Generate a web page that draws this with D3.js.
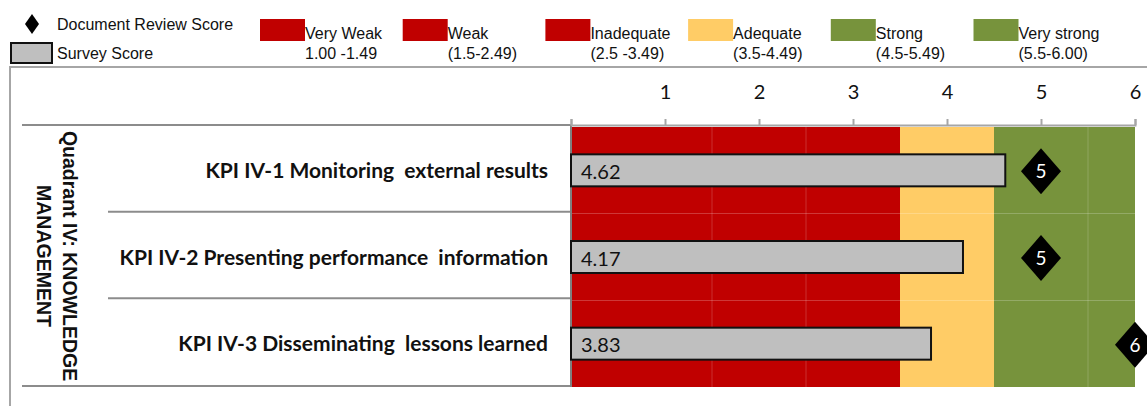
<!DOCTYPE html>
<html>
<head>
<meta charset="utf-8">
<script src="https://cdn.jsdelivr.net/npm/d3@7"></script>
<style>
  body { margin: 0; background: #fff; }
  svg { display: block; }
</style>
</head>
<body>
<svg></svg>
<script>
// ---- DATA ----
const kpis = [
  "KPI IV-1 Monitoring  external results",
  "KPI IV-2 Presenting performance  information",
  "KPI IV-3 Disseminating  lessons learned"
];
const surveyScores = [4.62, 4.17, 3.83];
const reviewScores = [5, 5, 6];
const quadrantLines = ["Quadrant IV: KNOWLEDGE", "MANAGEMENT"];

const bandNames = ["Very Weak", "Weak", "Inadequate", "Adequate", "Strong", "Very strong"];
const bandRanges = ["1.00 -1.49", "(1.5-2.49)", "(2.5 -3.49)", "(3.5-4.49)", "(4.5-5.49)", "(5.5-6.00)"];
const bandStarts = [0, 1.5, 2.5, 3.5, 4.5, 5.5];
const bandEnds = [1.5, 2.5, 3.5, 4.5, 5.5, 6];
const bandColors = ["#C00000", "#C00000", "#C00000", "#FFCC66", "#77933C", "#77933C"];
const tickValues = [0, 1, 2, 3, 4, 5, 6];

const W = 1147, H = 406;
const svg = d3.select("svg").attr("width", W).attr("height", H);

const calibri = "Lato, 'Open Sans', sans-serif";
const arial = "'Liberation Sans', Arial, sans-serif";

// ---- SCALES ----
const x = d3.scaleLinear().domain([0, 6]).range([571, 1135]);
const y = d3.scaleBand().domain(kpis).range([127, 387]).paddingInner(0);
const barH = 32;
const mid = k => y(k) + y.bandwidth() / 2;

// ---- FRAME ----
svg.append("path")
  .attr("d", `M10,${H} V67 H${W}`)
  .attr("fill", "none").attr("stroke", "#a6a6a6").attr("stroke-width", 2);

// ---- LEGEND ----
const leg = svg.append("g");
leg.append("path")
  .attr("d", "M0,-10L7,0L0,10L-7,0Z")
  .attr("transform", "translate(32,24)")
  .attr("fill", "#000");
leg.append("text").attr("x", 57).attr("y", 30).text("Document Review Score")
  .attr("font-family", arial).attr("font-size", 16).attr("fill", "#111");
leg.append("rect").attr("x", 11).attr("y", 43).attr("width", 41).attr("height", 20)
  .attr("fill", "#bfbfbf").attr("stroke", "#111").attr("stroke-width", 2);
leg.append("text").attr("x", 57).attr("y", 59).text("Survey Score")
  .attr("font-family", arial).attr("font-size", 16).attr("fill", "#111");

const legItem = leg.selectAll("g.item").data(bandNames).join("g")
  .attr("class", "item")
  .attr("transform", (d, i) => `translate(${260 + i * 142.7},0)`);
legItem.append("rect").attr("x", 0).attr("y", 19).attr("width", 45).attr("height", 22)
  .attr("fill", (d, i) => bandColors[i]);
legItem.append("text").attr("x", 45).attr("y", 39).text(d => d)
  .attr("font-family", arial).attr("font-size", 16).attr("fill", "#111");
legItem.append("text").attr("x", 45).attr("y", 59)
  .text((d, i) => bandRanges[i])
  .attr("font-family", arial).attr("font-size", 16).attr("fill", "#111");

// ---- BANDS ----
const bands = svg.append("g");
kpis.forEach(k => {
  bands.selectAll(null).data(bandStarts).join("rect")
    .attr("x", (d) => x(d))
    .attr("y", y(k))
    .attr("width", (d, i) => x(bandEnds[i]) - x(d))
    .attr("height", y.bandwidth())
    .attr("fill", (d, i) => bandColors[i]);
});
// faint dividers between bands of the same colour
bands.selectAll("line.div").data([1.5, 2.5, 5.5]).join("line")
  .attr("x1", d => x(d)).attr("x2", d => x(d))
  .attr("y1", y.range()[0]).attr("y2", y.range()[1])
  .attr("stroke", "#ffffff").attr("stroke-opacity", 0.18).attr("stroke-width", 1);

// ---- TABLE LINES ----
const grid = svg.append("g").attr("stroke", "#8c8c8c").attr("stroke-width", 2);
grid.append("line").attr("x1", 22).attr("x2", x(0)).attr("y1", 125).attr("y2", 125);
grid.append("line").attr("x1", 22).attr("x2", x(0)).attr("y1", 386).attr("y2", 386);
grid.selectAll("line.sep").data(kpis.slice(1)).join("line")
  .attr("x1", 108).attr("x2", x(0))
  .attr("y1", d => y(d) - 2).attr("y2", d => y(d) - 2);
grid.append("line").attr("x1", x(0)).attr("x2", x(0)).attr("y1", 125).attr("y2", 387)
  .attr("stroke", "#7f7f7f");

// ---- AXIS ----
const axis = d3.axisTop(x).tickValues(tickValues).tickSize(6).tickPadding(20)
  .tickFormat(d => d === 0 ? "" : d);
const axG = svg.append("g").attr("transform", "translate(0,125)").call(axis);
axG.select(".domain").attr("stroke", "#a6a6a6").attr("stroke-width", 2);
axG.selectAll(".tick line").attr("stroke", "#a6a6a6").attr("stroke-width", 2);
axG.selectAll(".tick text").attr("font-family", calibri).attr("font-size", 20).attr("fill", "#111");

// ---- CATEGORY LABELS ----
svg.append("g").selectAll("text").data(kpis).join("text")
  .attr("x", 548).attr("y", d => mid(d) + 7.5)
  .attr("text-anchor", "end")
  .attr("font-family", calibri).attr("font-weight", "bold").attr("font-size", 21)
  .attr("fill", "#111")
  .style("white-space", "pre")
  .text(d => d);

// quadrant label (rotated)
const q = svg.append("text")
  .attr("transform", `translate(63,256) rotate(90)`)
  .attr("text-anchor", "middle")
  .attr("font-family", arial).attr("font-weight", "bold").attr("font-size", 19.5)
  .attr("fill", "#111");
q.selectAll("tspan").data(quadrantLines).join("tspan")
  .attr("x", 0).attr("dy", (d, i) => i === 0 ? 0 : 26)
  .text(d => d);

// ---- SURVEY BARS ----
const bars = svg.append("g");
bars.selectAll("rect").data(surveyScores).join("rect")
  .attr("x", x(0))
  .attr("y", (d, i) => mid(kpis[i]) - barH / 2)
  .attr("width", d => x(d) - x(0))
  .attr("height", barH)
  .attr("fill", "#bfbfbf").attr("stroke", "#111").attr("stroke-width", 2);
bars.selectAll("text").data(surveyScores).join("text")
  .attr("x", x(0) + 10)
  .attr("y", (d, i) => mid(kpis[i]) + 8.5)
  .attr("font-family", calibri).attr("font-size", 20).attr("fill", "#111")
  .text(d => d.toFixed(2));

// ---- REVIEW DIAMONDS ----
const dia = svg.append("g").selectAll("g").data(reviewScores).join("g")
  .attr("transform", (d, i) => `translate(${x(d)},${mid(kpis[i]) + 1})`);
dia.append("path")
  .attr("d", "M0,-23L20,0L0,23L-20,0Z")
  .attr("fill", "#000");
dia.append("text").attr("text-anchor", "middle").attr("y", 7)
  .attr("font-family", calibri).attr("font-size", 19).attr("fill", "#fff")
  .text(d => d);
</script>
</body>
</html>
